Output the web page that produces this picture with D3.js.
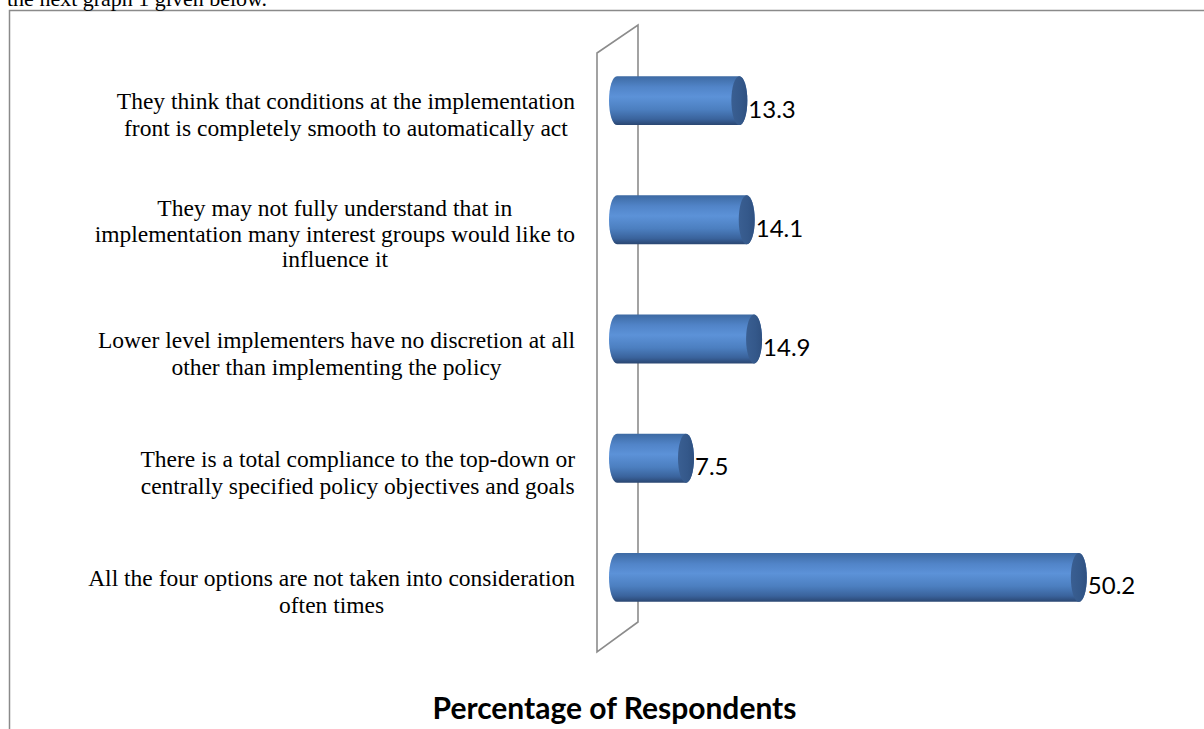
<!DOCTYPE html>
<html>
<head>
<meta charset="utf-8">
<script src="https://cdn.jsdelivr.net/npm/d3@7"></script>
<style>
  html, body { margin: 0; padding: 0; background: #fff; overflow: hidden; }
  svg { display: block; }
</style>
</head>
<body>
<svg id="chart" width="1204" height="729"></svg>
<script>
const categories = [
  "They think that conditions at the implementation|front is completely smooth to automatically act",
  "They may not fully understand that in|implementation many interest groups would like to|influence it",
  "Lower level implementers have no discretion at all|other than implementing the policy",
  "There is a total compliance to the top-down or|centrally specified policy objectives and goals",
  "All the four options are not taken into consideration|often times"
];
const values = [13.3, 14.1, 14.9, 7.5, 50.2];
const valueLabels = ["13.3", "14.1", "14.9", "7.5", "50.2"];
const axisTitle = "Percentage of Respondents";
const introText = "the next graph 1 given below.";

const svg = d3.select("#chart");

// page border / frame
svg.append("rect")
  .attr("x", 9.5).attr("y", 10.5).attr("width", 1400).attr("height", 900)
  .attr("fill", "none").attr("stroke", "#8a8a8a").attr("stroke-width", 1.5);

svg.append("text")
  .attr("x", 7).attr("y", 6)
  .attr("font-family", "Liberation Serif, Times New Roman, serif")
  .attr("font-size", 22).attr("fill", "#000")
  .text(introText);

const x = d3.scaleLinear().domain([0, 60]).range([617, 617 + 60 * 9.2]);
const y = d3.scaleBand().domain(d3.range(categories.length))
  .range([41, 637]).paddingInner(0.59).paddingOuter(0.295);

// gradients
const defs = svg.append("defs");
const g1 = defs.append("linearGradient").attr("id", "cyl")
  .attr("x1", 0).attr("y1", 0).attr("x2", 0).attr("y2", 1);
[[0, "#3d6aa3"], [0.22, "#5184c8"], [0.42, "#5c92d8"], [0.68, "#4c7fc0"], [0.88, "#3a639c"], [1, "#2a4671"]]
  .forEach(([o, c]) => g1.append("stop").attr("offset", o).attr("stop-color", c));
const g2 = defs.append("linearGradient").attr("id", "cap")
  .attr("x1", 0).attr("y1", 0).attr("x2", 1).attr("y2", 0);
[[0, "#3a5f92"], [0.6, "#34588a"], [1, "#2f5080"]]
  .forEach(([o, c]) => g2.append("stop").attr("offset", o).attr("stop-color", c));

// wall
const x0 = x(0);
const yTop = y.range()[0], yBot = y.range()[1];
const wall = [
  [x0 - 20, yTop + 12], [x0 + 21, yTop - 16],
  [x0 + 21, yBot - 15], [x0 - 20, yBot + 15]
];
svg.append("polygon")
  .attr("points", wall.map(p => p.join(",")).join(" "))
  .attr("fill", "#fff").attr("stroke", "#8c8c8c").attr("stroke-width", 1.6);

// bars (cylinders)
const rx = 8;
const bars = svg.append("g");
values.forEach((v, i) => {
  const top = y(i), bh = y.bandwidth(), bot = top + bh, ry = bh / 2, cy = top + ry;
  const x1 = x(v);
  const path = `M${x0},${top} L${x1},${top} A${rx},${ry} 0 0 1 ${x1},${bot} L${x0},${bot} A${rx},${ry} 0 0 1 ${x0},${top} Z`;
  bars.append("path").attr("d", path).attr("fill", "url(#cyl)");
  bars.append("ellipse").attr("cx", x1).attr("cy", cy).attr("rx", rx).attr("ry", ry)
    .attr("fill", "url(#cap)");
  bars.append("text")
    .attr("x", x1 + rx + 1).attr("y", cy + 17)
    .attr("font-family", "Lato, Carlito, Calibri, sans-serif")
    .attr("font-size", 24).attr("fill", "#000")
    .text(valueLabels[i]);
});

// category labels
const lineH = 27;
const labelRight = 575;
const lg = svg.append("g")
  .attr("font-family", "Liberation Serif, Times New Roman, serif")
  .attr("font-size", 23.5).attr("fill", "#000");
categories.forEach((c, i) => {
  const lines = c.split("|");
  const cy = y(i) + y.bandwidth() / 2;
  const lh = lines.length > 2 ? 25.5 : lineH;
  const firstBase = cy + 22 - (lines.length - 1) / 2 * lh;
  const t = lg.append("text").attr("text-anchor", "middle");
  const tspans = lines.map((ln, k) => t.append("tspan").attr("x", 0).attr("y", firstBase + k * lh).text(ln));
  const maxW = d3.max(tspans, s => s.node().getComputedTextLength());
  const center = labelRight - maxW / 2;
  tspans.forEach(s => s.attr("x", center));
});

// axis title
svg.append("text")
  .attr("x", 614.5).attr("y", 719)
  .attr("text-anchor", "middle")
  .attr("font-family", "Lato, Carlito, Calibri, sans-serif")
  .attr("font-weight", "bold").attr("font-size", 30).attr("fill", "#000")
  .text(axisTitle);
</script>
</body>
</html>
